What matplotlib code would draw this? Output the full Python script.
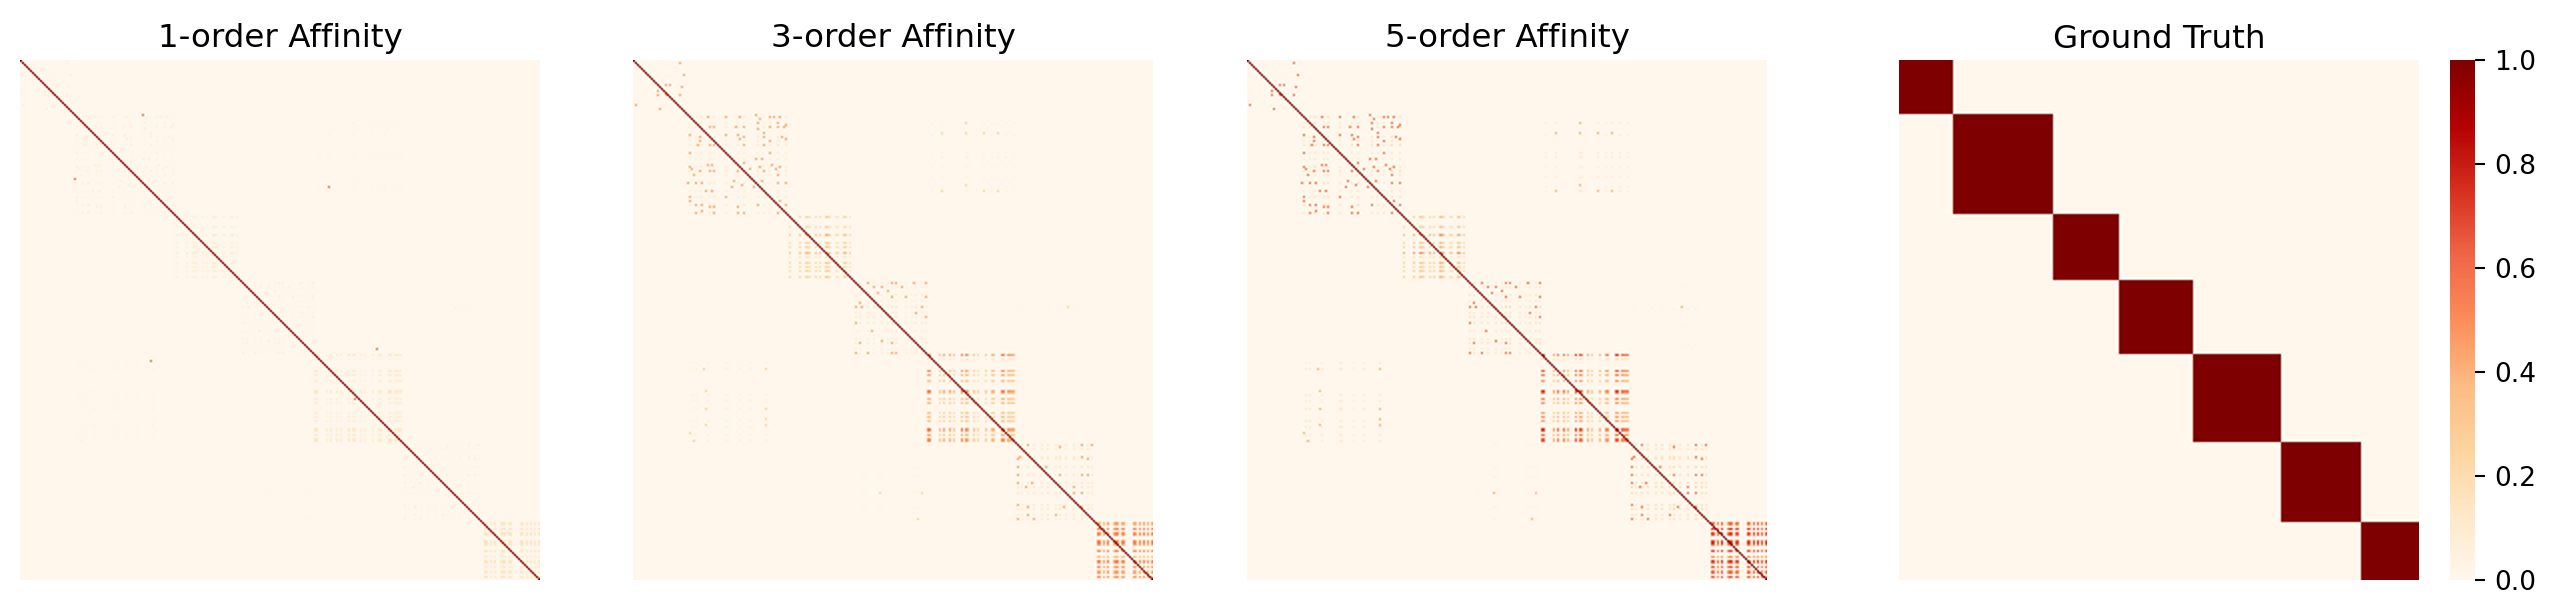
import numpy as np
import matplotlib
matplotlib.use('Agg')
import matplotlib.pyplot as plt

N = 260
W, H = 2559, 614

# --- cluster ends on the diagonal
block_ends = [27, 77, 110, 147, 191, 231, 260]

# --- stripes (rows, row weight, cols, col weight)
b1_rows = [2, 7, 12, 15, 17, 22]
b1_rw = [.3, .4, .6, .7, .6, .4]
b1_cols = [1, 6, 12, 16, 18, 23, 25]
b1_cw = [.3, .3, .6, .6, .5, .5, .4]

b2_rows = [28, 31, 33, 38, 40, 42, 46, 49, 53, 55, 57, 61, 65, 68, 72, 76]
b2_rw = [.6, .5, .7, .6, .5, .7, .4, .4, .6, .7, .4, .6, .4, .5, .7, .6]
b2_cols = [28, 31, 33, 34, 38, 40, 46, 52, 55, 62, 65, 68, 72, 76]
b2_cw = [.5, .6, .6, .5, .7, .7, .5, .6, .7, .6, .5, .5, .8, .7]

b3_rows = [78, 83, 87, 91, 93, 96, 98, 101, 103, 105, 108]
b3_rw = [.6, .55, .85, .6, .65, 1.0, .35, .65, .55, .6, .65]
b3_cols = [78, 83, 86, 87, 88, 91, 93, 96, 97, 98, 101, 102, 105, 106, 108]
b3_cw = [.65, .75, .8, .75, .55, .7, .65, 1.0, .9, .6, .4, .5, .8, .7, .5]

b4_rows = [111, 113, 117, 120, 123, 126, 128, 131, 135, 139, 141, 144, 146]
b4_rw = [.6, .5, .5, .4, .7, .5, .6, .6, .4, .5, .6, .4, .5]
b4_cols = [111, 113, 117, 120, 124, 127, 129, 131, 136, 139, 141, 144, 146]
b4_cw = [.6, .6, .5, .5, .5, .5, .7, .7, .4, .4, .6, .6, .6]

b5_rows = [147, 149, 155, 157, 160, 165, 166, 169, 171, 176, 178, 180, 184, 185, 187, 189, 190]
b5_rw = [1.0, .25, .85, .75, .65, 1.0, .8, .7, .65, .6, .65, .6, 1.0, .9, .8, .85, .9]
b5_cols = [147, 148, 153, 155, 158, 160, 164, 166, 167, 170, 172, 176, 179, 180, 184, 185, 187, 188, 189, 190]
b5_cw = [1.0, 1.0, .6, .8, .8, .6, 1.0, .95, .8, .6, .45, .55, .7, .7, 1.0, .95, .85, .8, .8, .75]

b6_rows = [192, 194, 198, 199, 203, 207, 211, 213, 216, 222, 224, 227, 229]
b6_rw = [.6, .5, .6, .6, .65, .65, .6, .7, .6, .6, .65, .5, .5]
b6_cols = [192, 194, 197, 200, 204, 207, 211, 213, 216, 220, 224, 227, 229]
b6_cw = [.7, .5, .6, .6, .6, .6, .55, .7, .5, .6, .75, .65, .5]

b7_rows = [231, 232, 234, 236, 237, 240, 241, 242, 245, 248, 250, 251, 253, 255, 256, 258]
b7_rw = [.8, .65, .95, .9, .85, .9, 1.0, .75, .9, .65, .95, .8, .85, .7, .8, .85]
b7_cols = [232, 233, 235, 237, 240, 241, 242, 244, 245, 250, 251, 253, 255, 257, 259]
b7_cw = [.95, .9, .8, .95, .75, 1.0, .9, .85, .9, .95, .8, .9, .95, .85, .9]

# --- faint off-diagonal groups
o25_rows = [31, 37, 46, 48, 53, 58, 63, 65]
o25_rw = [.6, .7, .7, .7, .5, .6, .5, .7]
o25_cols = [149, 154, 166, 167, 175, 179, 182, 186, 190]
o25_cw = [.5, .6, .6, .6, .6, .5, .6, .6, .5]

o52_rows = [151, 154, 167, 170, 174, 180, 183, 187, 190]
o52_rw = [.5, .7, .6, .6, .7, .6, .7, .6, .6]
o52_cols = [29, 31, 37, 46, 47, 53, 58, 66]
o52_cw = [.6, .6, .6, .6, .6, .4, .6, .7]

o46_rows = [113, 124, 133, 142]
o46_rw = [.3, .8, .5, .6]
o46_cols = [193, 202, 207, 213, 217, 220, 224]
o46_cw = [.4, .4, .5, .5, .7, .6, .6]

o64_rows = [192, 203, 208, 216, 223, 229]
o64_rw = [.4, .4, .6, .7, .6, .6]
o64_cols = [115, 123, 124, 140, 142, 144]
o64_cw = [.4, .7, .5, .5, .5, .7]

cells_in = [(12, 16), (12, 18), (15, 12), (17, 12), (17, 16), (13, 24), (1, 23), (24, 13), (17, 23), (22, 1), (7, 25),
            (28, 46), (28, 53), (27, 61), (29, 63), (28, 68), (28, 70), (28, 73), (28, 37), (31, 31), (34, 34), (33, 40),
            (33, 38), (33, 51), (33, 55), (31, 62), (34, 62), (33, 68), (31, 72), (33, 75), (33, 72), (32, 76), (37, 28),
            (38, 33), (40, 33), (37, 46), (37, 52), (39, 53), (38, 55), (42, 55), (36, 65), (38, 65), (42, 65), (40, 68),
            (38, 74), (39, 76), (42, 38), (42, 40), (42, 32), (46, 28), (46, 68), (49, 61), (49, 64), (53, 28), (54, 29),
            (52, 37), (52, 39), (55, 40), (55, 38), (55, 33), (55, 52), (51, 55), (54, 58), (53, 63), (55, 65), (52, 69),
            (53, 73), (57, 72), (54, 71), (57, 30), (60, 50), (61, 27), (61, 31), (61, 34), (61, 72), (61, 76), (62, 54),
            (63, 49), (63, 60), (60, 64), (65, 36), (65, 39), (68, 28), (68, 46), (70, 28), (72, 31), (72, 34), (73, 52),
            (72, 62), (70, 73), (72, 76), (75, 34), (76, 31), (76, 40), (73, 38), (73, 40), (76, 52), (76, 55), (76, 72),
            (76, 76),
            (111, 146), (111, 129), (111, 131), (113, 120), (113, 124), (111, 117), (121, 113), (123, 111), (123, 114),
            (118, 146), (118, 129), (115, 127), (123, 144), (126, 141), (128, 146), (131, 131), (131, 111), (140, 124),
            (141, 129), (144, 144), (146, 111), (146, 117), (146, 129), (146, 131), (135, 119), (141, 113), (116, 122),
            (111, 140), (113, 134), (118, 136),
            (192, 197), (198, 193), (199, 192), (203, 192), (207, 192), (211, 192), (213, 196), (213, 213), (207, 213),
            (207, 224), (207, 227), (223, 224), (223, 215), (199, 227), (198, 224), (222, 192), (223, 197), (229, 192),
            (229, 200), (227, 211), (227, 197), (193, 213), (192, 224), (192, 229), (213, 220), (216, 224), (216, 220),
            (203, 206), (211, 199)]
cells_off = [(36, 154), (36, 166), (36, 175), (36, 182), (65, 154), (62, 166), (65, 175), (65, 182), (31, 166),
             (182, 66), (174, 66), (179, 66), (154, 66), (165, 36), (182, 36), (174, 36), (190, 30), (186, 28), (154, 35),
             (123, 217), (216, 123), (216, 144), (229, 142)]
cells_1 = [(27, 61), (59, 27), (63, 154), (150, 65), (161, 161), (169, 167), (144, 178), (249, 249)]

stripes = [(b1_rows, b1_rw, b1_cols, b1_cw), (b2_rows, b2_rw, b2_cols, b2_cw), (b3_rows, b3_rw, b3_cols, b3_cw),
           (b4_rows, b4_rw, b4_cols, b4_cw), (b5_rows, b5_rw, b5_cols, b5_cw), (b6_rows, b6_rw, b6_cols, b6_cw),
           (b7_rows, b7_rw, b7_cols, b7_cw), (o25_rows, o25_rw, o25_cols, o25_cw), (o52_rows, o52_rw, o52_cols, o52_cw),
           (o46_rows, o46_rw, o46_cols, o46_cw), (o64_rows, o64_rw, o64_cols, o64_cw)]

# strength of each stripe group in each panel
gain_1 = [.02, .06, .14, .07, .14, .06, .17, .02, .03, .01, .01]
gain_3 = [.06, .25, .5, .28, .55, .3, .6, .1, .12, .04, .05]
gain_5 = [.08, .38, .62, .42, .72, .48, .8, .2, .25, .09, .1]

titles = ['1-order Affinity', '3-order Affinity', '5-order Affinity', 'Ground Truth']
lefts = [20, 633, 1247, 1899]


def build(gain, inner, off, extra=()):
    m = np.zeros((N, N))
    for (rows, rw, cols, cw), g in zip(stripes, gain):
        m[np.ix_(rows, cols)] = g * np.outer(rw, cw)
    for r, c in cells_in:
        m[r, c] = max(m[r, c], inner)
    for r, c in cells_off:
        m[r, c] = max(m[r, c], off)
    for r, c in extra:
        m[r, c] = .6
    np.fill_diagonal(m, 1)
    return m


truth = np.zeros((N, N))
start = 0
for end in block_ends:
    truth[start:end, start:end] = 1
    start = end

mats = [build(gain_1, .07, .03, cells_1), build(gain_3, .45, .25), build(gain_5, .6, .4), truth]

fig = plt.figure(figsize=(W / 100, H / 100), dpi=100)
for mat, title, left in zip(mats, titles, lefts):
    ax = fig.add_axes([left / W, 1 - 580 / H, 520 / W, 520 / H])
    im = ax.imshow(mat, cmap='OrRd', vmin=0, vmax=1, interpolation='spline16', aspect='auto')
    ax.set_title(title, fontsize=23.4, pad=9)
    ax.axis('off')

cax = fig.add_axes([2449.5 / W, 1 - 580 / H, 25.5 / W, 520 / H])
cb = fig.colorbar(im, cax=cax)
cb.outline.set_visible(False)
cb.set_ticks([0, .2, .4, .6, .8, 1])
cb.ax.tick_params(labelsize=19, length=7, width=1.5, pad=7)

fig.savefig('out.png', dpi=100)
